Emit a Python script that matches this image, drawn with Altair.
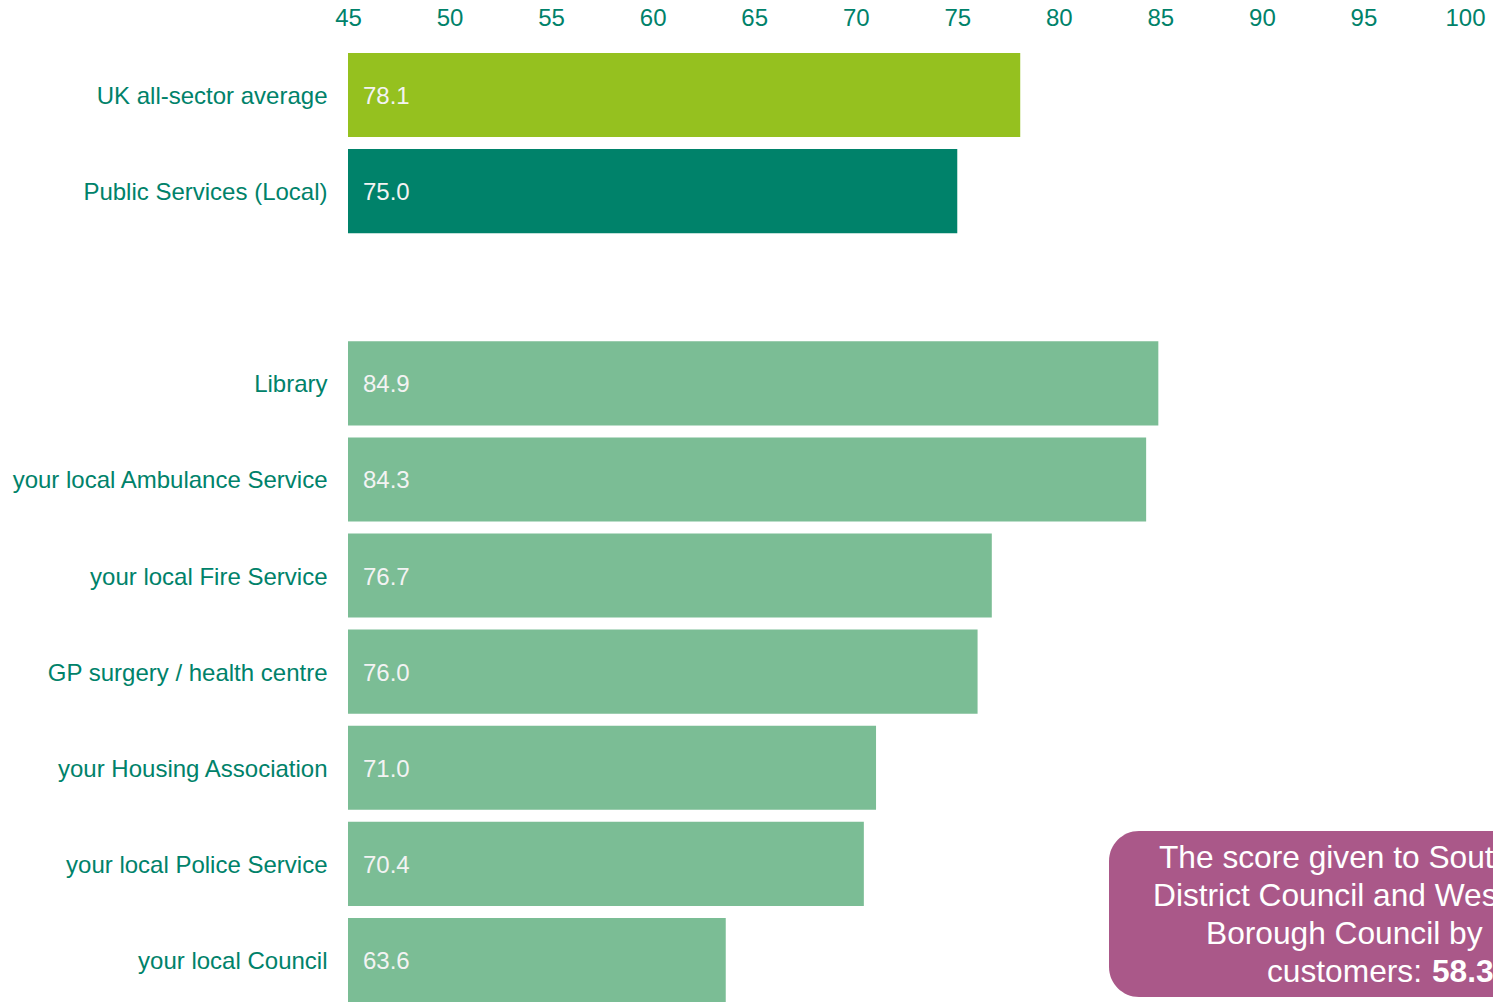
import altair as alt
import pandas as pd

# ---- data ----
categories = [
    "UK all-sector average",
    "Public Services (Local)",
    "Library",
    "your local Ambulance Service",
    "your local Fire Service",
    "GP surgery / health centre",
    "your Housing Association",
    "your local Police Service",
    "your local Council",
]
scores = [78.1, 75.0, 84.9, 84.3, 76.7, 76.0, 71.0, 70.4, 63.6]
groups = ["UK average", "Sector average", "Service", "Service", "Service",
          "Service", "Service", "Service", "Service"]
group_names = ["UK average", "Sector average", "Service"]
group_colors = ["#95C11F", "#00826A", "#7BBD95"]
y_order = categories[:2] + [" "] + categories[2:]  # blank row gives the gap
x_ticks = [45, 50, 55, 60, 65, 70, 75, 80, 85, 90, 95, 100]
x_domain = [45, 100]

callout_lines = ["The score given to South", "District Council and West",
                 "Borough Council by"]
callout_prefix = "customers:"
callout_score = "58.3"

FONT = "Liberation Sans"
TEAL = "#00826A"
FS = 24

df = pd.DataFrame({"category": categories, "score": scores, "group": groups})

y_enc = alt.Y(
    "category:N",
    scale=alt.Scale(domain=y_order, paddingInner=0.125, paddingOuter=0),
    axis=alt.Axis(title=None, ticks=False, tickSize=0, domain=False, grid=False,
                  labelPadding=21, labelOffset=2, labelFontSize=FS, labelColor=TEAL,
                  labelFont=FONT, labelLimit=0),
)
x_enc = alt.X(
    "score:Q",
    scale=alt.Scale(domain=x_domain, zero=False, nice=False),
    axis=alt.Axis(orient="top", values=x_ticks, title=None, ticks=False, tickSize=0,
                  domain=False, grid=False, labelPadding=28,
                  labelBaseline="alphabetic", labelFontSize=FS, labelColor=TEAL,
                  labelFont=FONT, labelFlush=False, labelOverlap=False),
)

bars = alt.Chart(df).mark_bar().encode(
    y=y_enc,
    x=x_enc,
    x2=alt.datum(45),
    color=alt.Color("group:N", scale=alt.Scale(domain=group_names, range=group_colors),
                    legend=None),
)

labels = alt.Chart(df).mark_text(
    align="left", baseline="middle", dx=15, dy=2, fontSize=FS, font=FONT,
    color="#F3F3F3"
).encode(
    y=alt.Y("category:N"),
    x=alt.datum(45),
    text=alt.Text("score:Q", format=".1f"),
)

one = pd.DataFrame({"k": [0]})

box = alt.Chart(one).mark_rect(cornerRadius=30, color="#AA5889").encode(
    x=alt.value(761), x2=alt.value(1300), y=alt.value(778), y2=alt.value(944)
)

text_layers = []
line_x = [811, 805, 858]
line_y = [815, 853, 891]
for txt, lx, ly in zip(callout_lines, line_x, line_y):
    text_layers.append(
        alt.Chart(one).mark_text(align="left", baseline="alphabetic", fontSize=31.7,
                                 font=FONT, color="white", text=txt)
        .encode(x=alt.value(lx), y=alt.value(ly))
    )
text_layers.append(
    alt.Chart(one).mark_text(align="left", baseline="alphabetic", fontSize=31.7,
                             font=FONT, color="white", text=callout_prefix)
    .encode(x=alt.value(919), y=alt.value(929))
)
text_layers.append(
    alt.Chart(one).mark_text(align="left", baseline="alphabetic", fontSize=31.7,
                             font=FONT, color="white", fontWeight="bold",
                             text=callout_score)
    .encode(x=alt.value(1084), y=alt.value(929))
)

chart = alt.layer(bars, labels, box, *text_layers).properties(
    width=1117,
    height=949,
    autosize=alt.AutoSizeParams(type="none"),
    padding={"left": 348, "top": 53, "right": 28, "bottom": 0},
    background="white",
).configure_view(stroke=None)

chart.save("out.html", embed_options={"renderer": "svg", "actions": False})
